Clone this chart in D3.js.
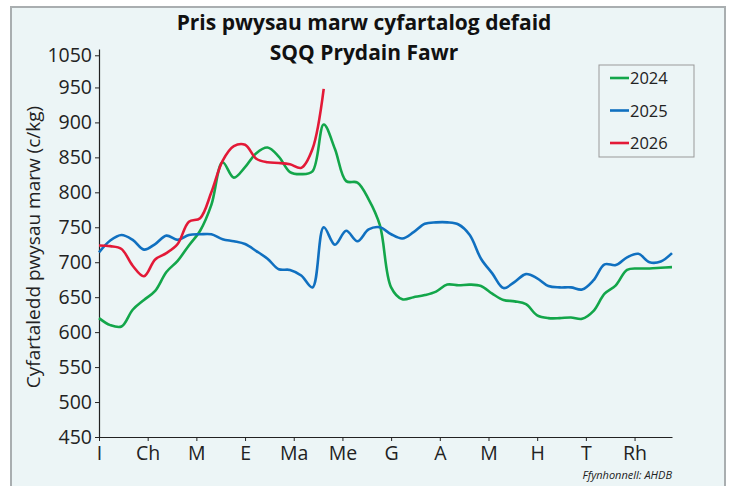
<!DOCTYPE html>
<html>
<head>
<meta charset="utf-8">
<script src="https://cdn.jsdelivr.net/npm/d3@7"></script>
<style>
  body { margin: 0; background: #fff; }
  svg { display: block; }
</style>
</head>
<body>
<svg id="chart" width="729" height="486"></svg>
<script>
// Weekly values, week 1..52
const weeks2024 = [620, 610, 608, 632, 646, 659, 686, 702, 724, 745, 782, 843, 821, 836, 856, 864, 851, 829, 826, 830,
  897, 862, 816, 814, 790, 753, 664, 647, 650, 653, 658, 668, 667, 668, 666, 655, 646, 644, 640, 624,
  620, 620, 621, 619, 630, 655, 667, 689, 691, 691, 692, 693]
const weeks2025 = [714, 731, 739, 732, 718, 726, 738, 732, 739, 740, 740, 733, 730, 726, 716, 705, 690, 689, 681, 664,
  750, 725, 745, 730, 747, 750, 740, 734, 743, 755, 757, 757, 754, 739, 705, 684, 663, 672, 683, 677,
  666, 664, 664, 661, 674, 697, 696, 707, 712, 700, 701, 713]
const weeks2026 = [724, 723, 719, 695, 680, 704, 713, 726, 758, 763, 800, 845, 866, 868, 848, 843, 842, 840, 835, 862, 948]

const seriesNames = ["2024", "2025", "2026"]
const seriesColors = ["#13a64a", "#1070c0", "#e31937"]

const monthLabels = ["I", "Ch", "M", "E", "Ma", "Me", "G", "A", "M", "H", "T", "Rh"]
const yTicks = [450, 500, 550, 600, 650, 700, 750, 800, 850, 900, 950, 996]
const yTickLabels = ["450", "500", "550", "600", "650", "700", "750", "800", "850", "900", "950", "1050"]

const svg = d3.select("#chart")

// Panel frame
svg.append("rect")
    .attr("x", 11).attr("y", 7)
    .attr("width", 714).attr("height", 500)
    .attr("fill", "#ecf5f6")
    .attr("stroke", "#a9aeb0")
    .attr("stroke-width", 2)

const x = d3.scaleLinear().domain([1, 52]).range([99, 672])
const y = d3.scaleLinear().domain([450, 1005]).range([437, 49])

// Title
svg.append("text")
    .attr("x", 364).attr("y", 30)
    .attr("text-anchor", "middle")
    .attr("font-family", "Open Sans, sans-serif")
    .attr("font-weight", "bold")
    .attr("font-size", 21)
    .attr("fill", "#111")
    .text("Pris pwysau marw cyfartalog defaid")
svg.append("text")
    .attr("x", 364).attr("y", 60)
    .attr("text-anchor", "middle")
    .attr("font-family", "Open Sans, sans-serif")
    .attr("font-weight", "bold")
    .attr("font-size", 21)
    .attr("fill", "#111")
    .text("SQQ Prydain Fawr")

// Y axis
const yAxis = svg.append("g")
    .attr("transform", "translate(99,0)")
    .call(d3.axisLeft(y)
        .tickValues(yTicks)
        .tickFormat((d, i) => yTickLabels[i])
        .tickSize(4)
        .tickSizeOuter(0))
yAxis.select(".domain").attr("stroke", "#222").attr("stroke-width", 1.2)
yAxis.selectAll(".tick line").attr("stroke", "#222")
yAxis.selectAll("text")
    .attr("font-family", "Open Sans, sans-serif")
    .attr("font-size", 19.5)
    .attr("fill", "#222")
    .attr("x", -7)

// X axis, month ticks every 52/12 weeks
const monthTicks = monthLabels.map((m, i) => 1 + i * 52 / 12)
const xAxis = svg.append("g")
    .attr("transform", "translate(0,437)")
    .call(d3.axisBottom(x)
        .tickValues(monthTicks)
        .tickFormat((d, i) => monthLabels[i])
        .tickSize(4)
        .tickSizeOuter(0))
xAxis.select(".domain").attr("stroke", "#222").attr("stroke-width", 1.2)
xAxis.selectAll(".tick line").attr("stroke", "#222")
xAxis.selectAll("text")
    .attr("font-family", "Open Sans, sans-serif")
    .attr("font-size", 19.5)
    .attr("fill", "#222")
    .attr("y", 9)

// Y axis title
svg.append("text")
    .attr("transform", "translate(40,247) rotate(-90)")
    .attr("text-anchor", "middle")
    .attr("font-family", "Open Sans, sans-serif")
    .attr("font-size", 19)
    .attr("fill", "#222")
    .text("Cyfartaledd pwysau marw (c/kg)")

// Lines
const line = d3.line()
    .x((d, i) => x(i + 1))
    .y((d) => y(d))
    .curve(d3.curveCatmullRom.alpha(0.5))

const allSeries = [weeks2024, weeks2025, weeks2026]
svg.append("g")
    .selectAll("path")
    .data(allSeries)
    .enter()
    .append("path")
    .attr("d", (d) => line(d))
    .attr("fill", "none")
    .attr("stroke", (d, i) => seriesColors[i])
    .attr("stroke-width", 2.6)
    .attr("stroke-linejoin", "round")

// Legend
const legend = svg.append("g")
legend.append("rect")
    .attr("x", 599).attr("y", 65)
    .attr("width", 95).attr("height", 92)
    .attr("fill", "#ecf5f6")
    .attr("stroke", "#999")
    .attr("stroke-width", 1)
seriesNames.forEach((name, i) => {
    const ly = 78 + i * 32.5
    legend.append("line")
        .attr("x1", 610).attr("x2", 629)
        .attr("y1", ly).attr("y2", ly)
        .attr("stroke", seriesColors[i])
        .attr("stroke-width", 2.6)
    legend.append("text")
        .attr("x", 630).attr("y", ly + 6)
        .attr("font-family", "Open Sans, sans-serif")
        .attr("font-size", 16.5)
        .attr("fill", "#222")
        .text(name)
})

// Source
svg.append("text")
    .attr("x", 672).attr("y", 479)
    .attr("text-anchor", "end")
    .attr("font-family", "Open Sans, sans-serif")
    .attr("font-style", "italic")
    .attr("font-size", 11)
    .attr("fill", "#222")
    .text("Ffynhonnell: AHDB")
</script>
</body>
</html>
